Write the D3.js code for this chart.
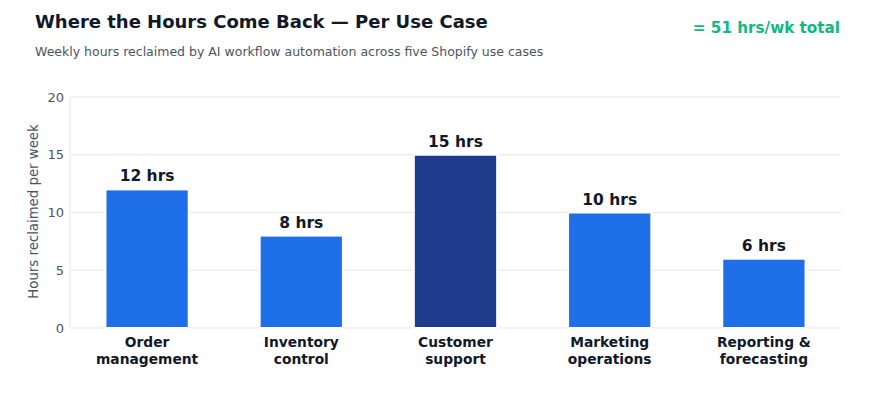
<!DOCTYPE html>
<html><head><meta charset="utf-8">
<script src="https://cdn.jsdelivr.net/npm/d3@7"></script>
<style>body{margin:0;background:#fff;font-family:"DejaVu Sans",sans-serif;}</style>
</head><body><svg id="c" width="876" height="400"></svg>
<script>
const categories = [["Order","management"],["Inventory","control"],["Customer","support"],["Marketing","operations"],["Reporting &","forecasting"]];
const hours = [12, 8, 15, 10, 6];
const highlight = [false, false, true, false, false];
const yTicks = [0, 5, 10, 15, 20];

const svg = d3.select("#c");
const m = {l:70, r:841, t:97, b:328};
const x = d3.scaleBand().domain(d3.range(categories.length)).range([m.l, m.r]).paddingInner(0.46).paddingOuter(0.23);
const y = d3.scaleLinear().domain([0,20]).range([m.b, m.t]);

// grid
svg.append("g").selectAll("line").data(yTicks).join("line")
  .attr("x1", m.l).attr("x2", m.r).attr("y1", d=>y(d)).attr("y2", d=>y(d))
  .attr("stroke", "#e5e7eb").attr("stroke-width", 1);
svg.append("line").attr("x1", m.l).attr("x2", m.l).attr("y1", m.t).attr("y2", m.b).attr("stroke","#e5e7eb");

// y axis labels
const ya = svg.append("g").attr("transform", `translate(${m.l},0)`)
  .call(d3.axisLeft(y).tickValues(yTicks).tickSize(0).tickPadding(6));
ya.select(".domain").remove();
ya.selectAll("text").attr("font-family","DejaVu Sans").attr("font-size", 13).attr("fill","#4b5563");

svg.append("text").attr("transform", `translate(38,${(m.t+m.b)/2-1}) rotate(-90)`)
  .attr("text-anchor","middle").attr("font-size", 13.3).attr("fill","#4b5563").text("Hours reclaimed per week");

// bars
svg.append("g").selectAll("rect").data(hours).join("rect")
  .attr("x", (d,i)=>x(i)).attr("width", x.bandwidth())
  .attr("y", d=>y(d)).attr("height", d=>y(0)-y(d))
  .attr("fill", (d,i)=>highlight[i] ? "#1e3a8a" : "#1f70e8")
  .attr("stroke", "#fff").attr("stroke-width", 2);

// value labels
svg.append("g").selectAll("text").data(hours).join("text")
  .attr("x", (d,i)=>x(i)+x.bandwidth()/2).attr("y", d=>y(d)-8)
  .attr("text-anchor","middle").attr("font-size", 15.5).attr("font-weight","bold").attr("fill","#111827")
  .text(d=>d+" hrs");

// category labels
const cl = svg.append("g").selectAll("text").data(categories).join("text")
  .attr("x", (d,i)=>x(i)+x.bandwidth()/2).attr("y", 347)
  .attr("text-anchor","middle").attr("font-size", 13.8).attr("font-weight","bold").attr("fill","#111827");
cl.selectAll("tspan").data(d=>d).join("tspan")
  .attr("x", function(){return this.parentNode.getAttribute("x");})
  .attr("dy", (d,i)=>i===0?0:17).text(d=>d);

// titles
svg.append("text").attr("x",35).attr("y",28).attr("font-size",18).attr("font-weight","bold").attr("fill","#111827")
  .text("Where the Hours Come Back — Per Use Case");
svg.append("text").attr("x",35).attr("y",56).attr("font-size",12.5).attr("fill","#4b5563")
  .text("Weekly hours reclaimed by AI workflow automation across five Shopify use cases");
svg.append("text").attr("x",840).attr("y",33).attr("text-anchor","end").attr("font-size",15.2).attr("font-weight","bold").attr("fill","#10b981")
  .text("= " + d3.sum(hours) + " hrs/wk total");
</script></body></html>
